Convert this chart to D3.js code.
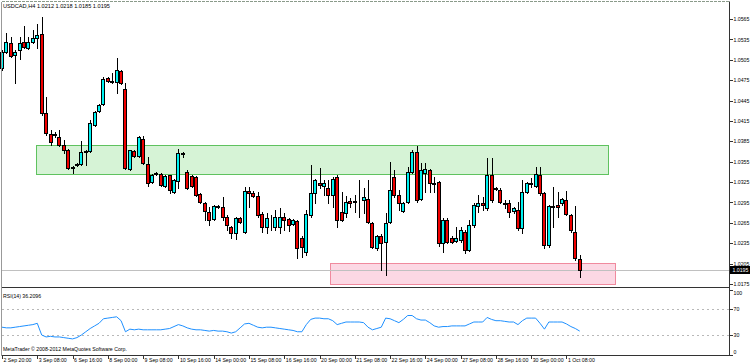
<!DOCTYPE html>
<html>
<head>
<meta charset="utf-8">
<script src="https://cdn.jsdelivr.net/npm/d3@7"></script>
<style>
  html, body { margin: 0; padding: 0; background: #fff; }
  svg { display: block; font-family: "Liberation Sans", Arial, sans-serif; }
</style>
</head>
<body>
<svg id="chart" width="750" height="364"></svg>
<script>
// USDCAD H4 candles (bar 0 = 2 Sep 20:00)
const open = [
  1.0493,1.0517,1.0530,1.0512,1.0519,1.0531,1.0522,1.0531,1.0537,1.0543,
  1.0427,1.0396,1.0396,1.0391,1.0380,1.0372,1.0346,1.0350,1.0352,1.0371,
  1.0371,1.0409,1.0430,1.0440,1.0478,1.0474,1.0472,1.0489,1.0462,1.0344,
  1.0371,1.0363,1.0388,1.0352,1.0325,1.0337,1.0337,1.0319,1.0335,1.0310,
  1.0327,1.0368,1.0340,1.0334,1.0332,1.0308,1.0294,1.0281,1.0271,1.0290,
  1.0288,1.0274,1.0259,1.0250,1.0272,1.0252,1.0312,1.0309,1.0305,1.0278,
  1.0259,1.0274,1.0259,1.0259,1.0274,1.0271,1.0263,1.0268,1.0243,1.0222,
  1.0277,1.0309,1.0324,1.0319,1.0316,1.0306,1.0332,1.0281,1.0280,1.0297,
  1.0296,1.0299,1.0299,1.0300,1.0265,1.0228,1.0246,1.0237,1.0266,1.0332,
  1.0306,1.0282,1.0296,1.0340,1.0369,1.0300,1.0338,1.0343,1.0322,1.0325,
  1.0235,1.0269,1.0243,1.0238,1.0240,1.0252,1.0225,1.0262,1.0290,1.0294,
  1.0287,1.0335,1.0316,1.0313,1.0294,1.0294,1.0282,1.0284,1.0257,1.0310,
  1.0324,1.0319,1.0335,1.0309,1.0232,1.0290,1.0291,1.0294,1.0299,1.0277,
  1.0252,1.0212
];
const high = [
  1.0519,1.0545,1.0539,1.0519,1.0539,1.0555,1.0539,1.0549,1.0558,1.0568,
  1.0450,1.0402,1.0399,1.0402,1.0387,1.0374,1.0349,1.0353,1.0386,1.0372,
  1.0416,1.0430,1.0440,1.0480,1.0480,1.0486,1.0508,1.0490,1.0471,1.0372,
  1.0372,1.0393,1.0393,1.0362,1.0337,1.0340,1.0338,1.0335,1.0336,1.0330,
  1.0374,1.0369,1.0343,1.0335,1.0334,1.0309,1.0296,1.0288,1.0291,1.0291,
  1.0303,1.0277,1.0260,1.0274,1.0274,1.0318,1.0318,1.0312,1.0310,1.0281,
  1.0280,1.0277,1.0284,1.0287,1.0280,1.0272,1.0271,1.0269,1.0246,1.0284,
  1.0350,1.0330,1.0346,1.0328,1.0328,1.0332,1.0335,1.0310,1.0305,1.0302,
  1.0306,1.0328,1.0316,1.0328,1.0266,1.0247,1.0249,1.0280,1.0355,1.0343,
  1.0313,1.0296,1.0347,1.0372,1.0378,1.0353,1.0353,1.0344,1.0332,1.0327,
  1.0272,1.0272,1.0246,1.0259,1.0259,1.0254,1.0269,1.0294,1.0306,1.0303,
  1.0360,1.0360,1.0318,1.0316,1.0299,1.0299,1.0288,1.0296,1.0328,1.0325,
  1.0331,1.0347,1.0347,1.0310,1.0291,1.0318,1.0310,1.0302,1.0312,1.0278,
  1.0290,1.0218
];
const low = [
  1.0490,1.0515,1.0509,1.0471,1.0506,1.0522,1.0521,1.0530,1.0522,1.0424,
  1.0394,1.0380,1.0391,1.0378,1.0368,1.0344,1.0338,1.0349,1.0350,1.0350,
  1.0369,1.0408,1.0428,1.0439,1.0472,1.0471,1.0456,1.0470,1.0344,1.0343,
  1.0362,1.0362,1.0352,1.0319,1.0324,1.0335,1.0319,1.0318,1.0309,1.0309,
  1.0316,1.0362,1.0315,1.0318,1.0305,1.0294,1.0269,1.0262,1.0269,1.0287,
  1.0269,1.0254,1.0243,1.0241,1.0265,1.0250,1.0288,1.0303,1.0274,1.0252,
  1.0250,1.0254,1.0254,1.0250,1.0254,1.0253,1.0262,1.0213,1.0215,1.0218,
  1.0274,1.0294,1.0316,1.0306,1.0294,1.0288,1.0259,1.0268,1.0274,1.0288,
  1.0281,1.0274,1.0280,1.0265,1.0228,1.0225,1.0196,1.0188,1.0265,1.0303,
  1.0284,1.0281,1.0294,1.0338,1.0296,1.0299,1.0310,1.0310,1.0310,1.0231,
  1.0222,1.0235,1.0235,1.0237,1.0237,1.0221,1.0224,1.0259,1.0281,1.0284,
  1.0284,1.0296,1.0313,1.0294,1.0287,1.0274,1.0280,1.0254,1.0250,1.0309,
  1.0318,1.0318,1.0306,1.0228,1.0230,1.0259,1.0274,1.0291,1.0277,1.0252,
  1.0210,1.0185
];
const close = [
  1.0517,1.0531,1.0511,1.0517,1.0530,1.0524,1.0531,1.0537,1.0542,1.0427,
  1.0397,1.0384,1.0394,1.0380,1.0372,1.0346,1.0347,1.0352,1.0369,1.0370,
  1.0412,1.0428,1.0439,1.0477,1.0474,1.0473,1.0490,1.0471,1.0346,1.0372,
  1.0363,1.0391,1.0353,1.0324,1.0335,1.0338,1.0321,1.0334,1.0313,1.0328,
  1.0368,1.0367,1.0316,1.0319,1.0306,1.0296,1.0282,1.0269,1.0290,1.0288,
  1.0274,1.0262,1.0250,1.0272,1.0266,1.0312,1.0309,1.0305,1.0277,1.0259,
  1.0272,1.0273,1.0274,1.0274,1.0269,1.0262,1.0269,1.0228,1.0230,1.0278,
  1.0309,1.0328,1.0321,1.0324,1.0306,1.0330,1.0269,1.0269,1.0296,1.0294,
  1.0297,1.0298,1.0303,1.0266,1.0230,1.0246,1.0235,1.0265,1.0313,1.0306,
  1.0294,1.0294,1.0340,1.0369,1.0299,1.0343,1.0344,1.0324,1.0324,1.0235,
  1.0269,1.0237,1.0237,1.0243,1.0254,1.0225,1.0262,1.0291,1.0294,1.0291,
  1.0335,1.0299,1.0315,1.0296,1.0293,1.0281,1.0287,1.0257,1.0310,1.0324,
  1.0322,1.0337,1.0309,1.0232,1.0290,1.0289,1.0288,1.0300,1.0278,1.0254,
  1.0213,1.0195
];
const rsi = [
  42,41,41,42,43,44,45,46,48,30,
  27,28,27,27,26,25,24,26,30,35,
  40,44,48,55,56,57,58,52,35,39,
  38,39,38,38,38,38,38,39,40,43,
  46,44,41,39,38,38,37,36,37,36,
  36,35,33,35,41,47,48,45,42,41,
  42,42,41,40,39,38,37,35,35,46,
  54,56,56,55,55,52,46,48,50,50,
  50,50,49,42,38,40,42,56,55,52,
  49,54,60,60,55,53,53,49,44,42,
  43,43,44,44,44,44,47,50,50,50,
  57,54,52,52,51,50,50,46,52,56,
  56,56,48,39,50,50,50,50,47,43,
  40,36
];
const priceTicks = [1.0175,1.0205,1.0235,1.0265,1.0295,1.0325,1.0355,1.0385,1.0415,1.0445,1.0475,1.0505,1.0535,1.0565];
const rsiTicks = [0, 30, 70, 100];
const rsiLevels = [30, 70];
const timeLabels = ["2 Sep 20:00","3 Sep 08:00","6 Sep 16:00","8 Sep 00:00","9 Sep 08:00","10 Sep 16:00",
  "14 Sep 00:00","15 Sep 08:00","16 Sep 16:00","20 Sep 00:00","21 Sep 08:00","22 Sep 16:00",
  "24 Sep 00:00","27 Sep 08:00","28 Sep 16:00","30 Sep 00:00","1 Oct 08:00"];
const labelEvery = 8;
// drawn boxes: [first bar, last bar, top price, bottom price]
const greenZone = [7.7, 137.4, 1.0380, 1.0337];
const pinkZone  = [74.4, 139.0, 1.0206, 1.0175];

const svg = d3.select("#chart");
const W = 750, H = 364;
const plotL = 1.5, plotR = 729.5, mainT = 1.5, mainB = 287.5, rsiB = 355.5;

const x  = d3.scaleLinear().domain([0, 165]).range([2, 2 + 165 * 4.41]);
const y  = d3.scaleLinear().domain([1.0175, 1.0565]).range([284, 19]);
const yr = d3.scaleLinear().domain([0, 100]).range([354.5, 289.5]);
const px = v => Math.round(v);

svg.append("rect").attr("width", W).attr("height", H).attr("fill", "#fff");

/* zones */
function zone(z, fill, stroke) {
  svg.append("rect")
    .attr("x", px(x(z[0])) + 0.5).attr("y", px(y(z[2])) + 0.5)
    .attr("width", px(x(z[1]) - x(z[0]))).attr("height", px(y(z[3]) - y(z[2])))
    .attr("fill", fill).attr("stroke", stroke).attr("shape-rendering", "crispEdges");
}
zone(greenZone, "#d6f3d6", "#5fc25f");
zone(pinkZone, "#fcd8e4", "#f08a9e");

/* bid line */
const last = close[close.length - 1];
svg.append("line")
  .attr("x1", plotL).attr("x2", plotR)
  .attr("y1", px(y(last)) + 0.5).attr("y2", px(y(last)) + 0.5)
  .attr("stroke", "#c0c0c0").attr("shape-rendering", "crispEdges");

/* candles */
const idx = d3.range(open.length);
const candles = svg.append("g").attr("shape-rendering", "crispEdges");
candles.selectAll("line").data(idx).join("line")
  .attr("x1", i => px(x(i)) + 0.5).attr("x2", i => px(x(i)) + 0.5)
  .attr("y1", i => px(y(high[i]))).attr("y2", i => px(y(low[i])) + 1)
  .attr("stroke", "#000");
candles.selectAll("rect").data(idx).join("rect")
  .attr("x", i => px(x(i)) - 1.5)
  .attr("y", i => px(y(Math.max(open[i], close[i]))) + 0.5)
  .attr("width", 3)
  .attr("height", i => Math.max(0, px(y(Math.min(open[i], close[i]))) - px(y(Math.max(open[i], close[i])))))
  .attr("fill", i => close[i] >= open[i] ? "#00f2f2" : "#f00000")
  .attr("stroke", "#000");

/* RSI */
rsiLevels.forEach(l => {
  svg.append("line")
    .attr("x1", plotL).attr("x2", plotR)
    .attr("y1", px(yr(l)) + 0.5).attr("y2", px(yr(l)) + 0.5)
    .attr("stroke", "#b8b8b8").attr("stroke-dasharray", "2,3")
    .attr("shape-rendering", "crispEdges");
});
svg.append("path")
  .datum(idx)
  .attr("fill", "none").attr("stroke", "#1e90ff").attr("stroke-width", 1)
  .attr("d", d3.line().x(i => x(i)).y(i => yr(rsi[i])));

/* frame */
const frame = svg.append("g").attr("shape-rendering", "crispEdges");
frame.append("line").attr("x1", plotL).attr("x2", plotR).attr("y1", mainT).attr("y2", mainT).attr("stroke", "#8a9a8a").attr("stroke-dasharray", "3,1");
frame.append("line").attr("x1", plotL).attr("x2", plotL).attr("y1", mainT).attr("y2", rsiB).attr("stroke", "#999");
frame.append("line").attr("x1", plotL).attr("x2", plotR).attr("y1", mainB).attr("y2", mainB).attr("stroke", "#333");
frame.append("line").attr("x1", plotL).attr("x2", plotR).attr("y1", rsiB).attr("y2", rsiB).attr("stroke", "#333");

/* axes */
const fs = "5.2px";
const priceAxis = svg.append("g").attr("transform", `translate(${plotR},0)`)
  .call(d3.axisRight(y).tickValues(priceTicks).tickSize(3).tickPadding(1).tickFormat(d3.format(".4f")));
priceAxis.select(".domain").attr("d", `M0,${mainT}V${rsiB}`).attr("stroke", "#333");

const rsiAxis = svg.append("g").attr("transform", `translate(${plotR},0)`)
  .call(d3.axisRight(yr).tickValues(rsiTicks).tickSize(3).tickPadding(1).tickFormat(d3.format("d")));
rsiAxis.select(".domain").remove();
rsiAxis.selectAll(".tick text").attr("dy", d => d === 100 ? "0.9em" : d === 0 ? "-0.1em" : "0.32em");

const labelBars = timeLabels.map((_, i) => i * labelEvery);
const timeAxis = svg.append("g").attr("transform", `translate(0,${rsiB})`)
  .call(d3.axisBottom(x).tickValues(labelBars).tickSize(3).tickPadding(0).tickFormat((d, i) => timeLabels[i]));
timeAxis.select(".domain").remove();
timeAxis.selectAll(".tick text").attr("text-anchor", "start").attr("x", 1);

svg.selectAll(".tick text").attr("font-size", fs).attr("fill", "#000").attr("font-family", null);
svg.selectAll(".tick line").attr("stroke", "#333").attr("shape-rendering", "crispEdges");

/* current price tag */
const tagY = px(y(last));
svg.append("rect").attr("x", plotR + 0.5).attr("y", tagY - 4).attr("width", 20).attr("height", 8).attr("fill", "#000");
svg.append("text").attr("x", plotR + 3).attr("y", tagY + 2).attr("font-size", fs).attr("fill", "#fff")
  .text(d3.format(".4f")(last));

/* titles */
const lastI = open.length - 1;
svg.append("text").attr("x", 3).attr("y", 8).attr("font-size", "5.6px")
  .text(`USDCAD,H4  ${[open[lastI], high[lastI], low[lastI], close[lastI]].map(d3.format(".4f")).join(" ")}`);
svg.append("text").attr("x", 3).attr("y", 298).attr("font-size", "5.2px")
  .text(`RSI(14) ${(rsi[lastI] + 0.2096).toFixed(4)}`);
svg.append("text").attr("x", 3).attr("y", 351).attr("font-size", "5.2px")
  .text("MetaTrader © 2008-2012 MetaQuotes Software Corp.");
</script>
</body>
</html>
